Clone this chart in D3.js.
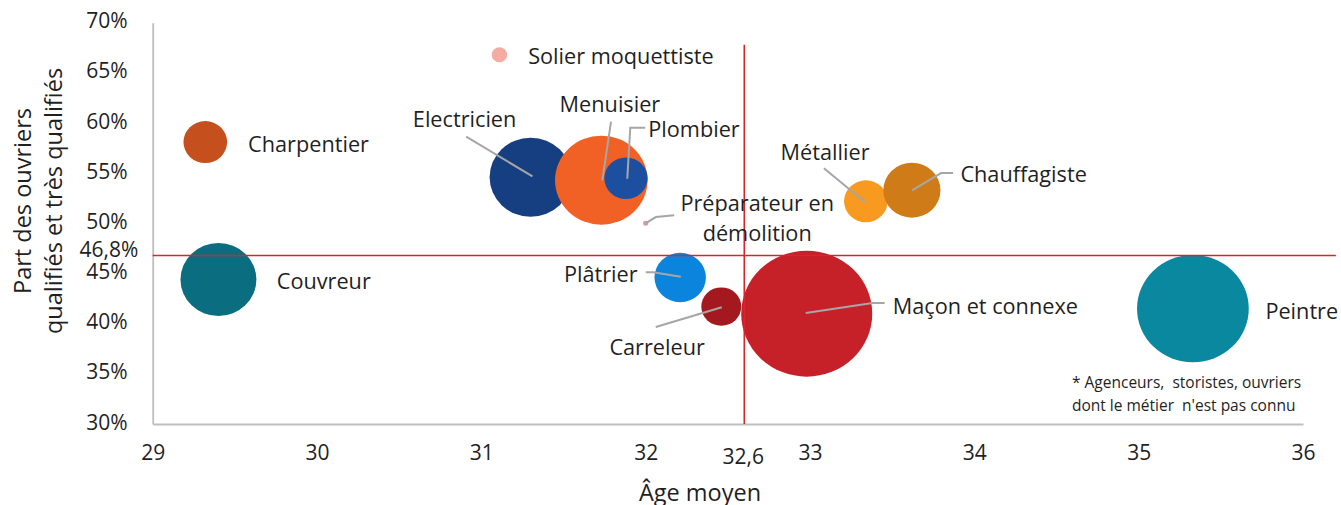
<!DOCTYPE html>
<html lang="fr">
<head>
<meta charset="utf-8">
<script src="https://cdn.jsdelivr.net/npm/d3@7/dist/d3.min.js"></script>
<style>
  html, body { margin: 0; padding: 0; background: #ffffff; }
  svg { display: block; font-family: "Open Sans", "Noto Sans", sans-serif; }
  text { fill: #1f1f1f; }
</style>
</head>
<body>
<svg id="chart" width="1341" height="505"></svg>
<script>
// Métiers du bâtiment : âge moyen, part des ouvriers qualifiés et très qualifiés, effectifs (indice, maçon = 100)
const metiers   = ["Solier moquettiste", "Charpentier", "Couvreur", "Electricien", "Menuisier", "Plombier",
                   "Préparateur en démolition", "Métallier", "Chauffagiste", "Plâtrier", "Carreleur",
                   "Maçon et connexe", "Peintre"];
const agesMoyens = [31.11, 29.32, 29.40, 31.30, 31.73, 31.88, 32.00, 33.34, 33.62, 32.21, 32.46, 32.98, 35.33];
const partsQualifies = [66.8, 58.1, 44.4, 54.6, 54.3, 54.5, 50.0, 52.2, 53.3, 44.6, 41.7, 41.0, 41.5];
const effectifs = [1.4, 11.1, 33.6, 39.3, 49.9, 10.9, 0.16, 11.1, 19.0, 15.4, 9.3, 100, 72.7];
const couleurs  = ["#f4aba1", "#c6501d", "#0a6e80", "#163f82", "#f16125", "#1d4fa1",
                   "#d89aa4", "#f79a1f", "#cf7c18", "#0a84dc", "#a3191f", "#c62129", "#0a889f"];

// Axes
const xTicks = [29, 30, 31, 32, 33, 34, 35, 36];
const yTicks = [30, 35, 40, 45, 50, 55, 60, 65, 70];
// Moyennes de l'ensemble des ouvriers
const ageMoyenGlobal = 32.6;
const partGlobale = 46.8;

// Label placement (offsets from the bubble centre, px) and leader lines
const labelLayout = {
  "Solier moquettiste":        { dx: 28.7, dy: 0.0, anchor: "start" },
  "Charpentier":               { dx: 42.8, dy: 0.7, anchor: "start" },
  "Couvreur":                  { dx: 58.3, dy: 0.5, anchor: "start" },
  "Electricien":               { dx: -117.8, dy: -59.2, anchor: "start",
                                 leader: [[-64.5, -40.5], [1.8, -0.8]] },
  "Menuisier":                 { dx: -41.7, dy: -77.2, anchor: "start",
                                 leader: [[9.7, -58.5], [1, 0.2]] },
  "Plombier":                  { dx: 22.3, dy: -50.2, anchor: "start",
                                 leader: [[19.3, -50.5], [4.3, -50.5], [1.3, 0.5]] },
  "Préparateur en démolition": { dx: 111.5, dy: -21.3, anchor: "middle", lines: ["Préparateur en", "démolition"], lineGap: 29.5,
                                 leader: [[0.2, -0.3], [10.2, -6.3], [28.5, -8]] },
  "Métallier":                 { dx: -85.3, dy: -50.3, anchor: "start",
                                 leader: [[-42, -33], [-1, 0.7]] },
  "Chauffagiste":              { dx: 48.5, dy: -17.2, anchor: "start",
                                 leader: [[41.2, -17.2], [29.2, -17.2], [0.2, 0.2]] },
  "Plâtrier":                  { dx: -116.3, dy: -4.5, anchor: "start",
                                 leader: [[-34.5, -5.2], [-27, -5.2], [0.6, -0.8]] },
  "Carreleur":                 { dx: -111.9, dy: 39, anchor: "start",
                                 leader: [[-65.5, 20.3], [0.5, 0.7]] },
  "Maçon et connexe":          { dx: 86, dy: -9, anchor: "start",
                                 leader: [[78, -10.7], [65.8, -10.7], [-1, -0.7]] },
  "Peintre":                   { dx: 72.5, dy: 1.3, anchor: "start" }
};

const svg = d3.select("#chart");
const plot = { left: 152.7, right: 1303, top: 22.7, bottom: 424 };

const x = d3.scaleLinear().domain([29, 36]).range([plot.left, plot.right]);
const y = d3.scaleLinear().domain([30, 70]).range([plot.bottom, plot.top]);
const r = d3.scaleSqrt().domain([0, 100]).range([0, 63]);
const aspect = 1.04;

const data = metiers.map((m, i) => ({
  metier: m, age: agesMoyens[i], part: partsQualifies[i], effectif: effectifs[i], couleur: couleurs[i]
}));

// Axes
const axisColor = "#bfbfbf";
const tickFont = "21px";
const xAxis = svg.append("g")
  .attr("transform", `translate(0,${plot.bottom})`)
  .call(d3.axisBottom(x).tickValues(xTicks).tickSize(0).tickSizeOuter(0).tickPadding(21.3).tickFormat(d3.format("d")));
const yAxis = svg.append("g")
  .attr("transform", `translate(${plot.left},0)`)
  .call(d3.axisLeft(y).tickValues(yTicks).tickSize(0).tickSizeOuter(0).tickPadding(25).tickFormat(d => d + "%"));
[xAxis, yAxis].forEach(g => {
  g.select(".domain").attr("stroke", axisColor).attr("stroke-width", 1.8);
  g.selectAll("text").attr("fill", "#1f1f1f").style("font-size", tickFont).style("font-family", "'Open Sans', sans-serif");
});
yAxis.selectAll(".tick text").attr("dy", "0.24em");

// Extra tick labels for the averages
svg.append("text")
  .attr("x", 109).attr("y", y(partGlobale) - 6.5)
  .attr("text-anchor", "middle").attr("dominant-baseline", "central")
  .style("font-size", tickFont)
  .text(d3.format(".1f")(partGlobale).replace(".", ",") + "%");
svg.append("text")
  .attr("x", x(ageMoyenGlobal) - 1).attr("y", plot.bottom + 32)
  .attr("text-anchor", "middle").attr("dominant-baseline", "central")
  .style("font-size", tickFont)
  .text(String(ageMoyenGlobal).replace(".", ","));

// Axis titles
svg.append("text")
  .attr("x", 700).attr("y", 491.5)
  .attr("text-anchor", "middle").attr("dominant-baseline", "central")
  .style("font-size", "23.5px")
  .text("Âge moyen");
const yTitle = svg.append("text")
  .attr("transform", "translate(0,201) rotate(-90)")
  .attr("text-anchor", "middle")
  .style("font-size", "23.5px");
yTitle.append("tspan").attr("x", 0).attr("y", 31).text("Part des ouvriers");
yTitle.append("tspan").attr("x", 0).attr("y", 62).text("qualifiés et très qualifiés");

// Bubbles, drawn so that small ones stay visible
const order = ["Solier moquettiste", "Charpentier", "Couvreur", "Peintre", "Electricien", "Menuisier", "Plombier",
               "Préparateur en démolition", "Métallier", "Chauffagiste", "Plâtrier", "Carreleur", "Maçon et connexe"];
const sorted = order.map(n => data.find(d => d.metier === n));
svg.append("g").selectAll("ellipse")
  .data(sorted)
  .join("ellipse")
  .attr("cx", d => x(d.age))
  .attr("cy", d => y(d.part))
  .attr("rx", d => r(d.effectif) * aspect)
  .attr("ry", d => r(d.effectif))
  .attr("fill", d => d.couleur);

// Reference lines at the overall averages
const refColor = "#d8242b";
svg.append("line")
  .attr("x1", x(29)).attr("x2", x(36.2))
  .attr("y1", y(partGlobale)).attr("y2", y(partGlobale))
  .attr("stroke", refColor).attr("stroke-width", 1.6);
svg.append("line")
  .attr("x1", x(ageMoyenGlobal)).attr("x2", x(ageMoyenGlobal))
  .attr("y1", y(67.8)).attr("y2", y(30))
  .attr("stroke", refColor).attr("stroke-width", 1.6);

// Leader lines
const line = d3.line();
svg.append("g").selectAll("path")
  .data(data.filter(d => labelLayout[d.metier].leader))
  .join("path")
  .attr("d", d => line(labelLayout[d.metier].leader.map(([dx, dy]) => [x(d.age) + dx, y(d.part) + dy])))
  .attr("fill", "none")
  .attr("stroke", "#a6a6a6")
  .attr("stroke-width", 2);

// Labels
const labels = svg.append("g").selectAll("text")
  .data(data)
  .join("text")
  .attr("text-anchor", d => labelLayout[d.metier].anchor)
  .attr("dominant-baseline", "central")
  .style("font-size", "21.7px");
labels.each(function(d) {
  const L = labelLayout[d.metier];
  const t = d3.select(this);
  const lines = L.lines || [d.metier];
  lines.forEach((s, i) => {
    t.append("tspan")
      .attr("x", x(d.age) + L.dx)
      .attr("y", y(d.part) + L.dy + i * (L.lineGap || 0))
      .text(s);
  });
});

// Note
const note = svg.append("text").style("font-size", "15.5px").attr("xml:space", "preserve").style("white-space", "pre");
note.append("tspan").attr("x", 1072).attr("y", 388).text("* Agenceurs,  storistes, ouvriers");
note.append("tspan").attr("x", 1072).attr("y", 411).text("dont le métier  n'est pas connu");
</script>
</body>
</html>
